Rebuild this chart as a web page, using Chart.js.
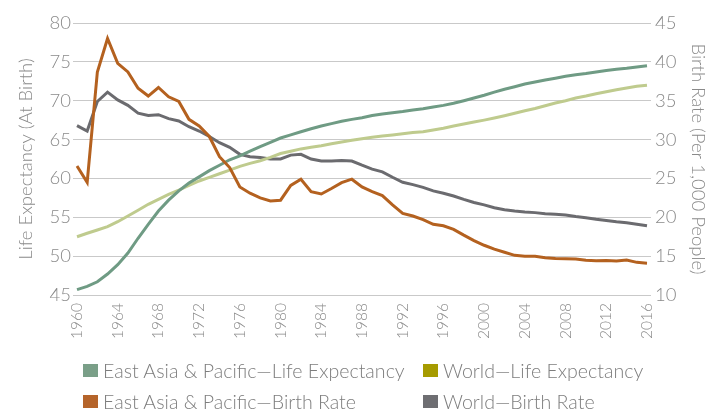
<!DOCTYPE html>
<html>
<head>
<meta charset="utf-8">
<script src="https://cdn.jsdelivr.net/npm/chart.js@4.4.0/dist/chart.umd.min.js"></script>
<style>
  html, body { margin: 0; padding: 0; background: #fff; }
  #wrap { position: relative; width: 722px; height: 410px; }
  #legend { position: absolute; left: 0; top: 0; width: 722px; height: 410px; pointer-events: none; }
  .item { position: absolute; display: flex; align-items: center; height: 24px;
          font-family: "Lato", sans-serif; font-weight: 300; font-size: 19.6px; color: #7d7d7d; white-space: nowrap; }
  .box { width: 15px; height: 13px; margin-right: 5px; flex: none; }
</style>
</head>
<body>
<div id="wrap">
  <canvas id="c" width="722" height="410"></canvas>
  <div id="legend"></div>
</div>
<script>
const years = [];
for (let y = 1960; y <= 2016; y++) years.push(String(y));

const seriesNames = [
  "East Asia & Pacific\u2014Life Expectancy",
  "World\u2014Life Expectancy",
  "East Asia & Pacific\u2014Birth Rate",
  "World\u2014Birth Rate"
];

const eapLife = [45.7, 46.1, 46.7, 47.7, 48.9, 50.4, 52.3, 54.1, 55.8, 57.2,
  58.4, 59.4, 60.2, 61.0, 61.7, 62.4, 62.9, 63.5, 64.1, 64.65,
  65.2, 65.6, 66.0, 66.4, 66.75, 67.05, 67.35, 67.6, 67.8, 68.1,
  68.3, 68.45, 68.6, 68.8, 68.97, 69.2, 69.4, 69.67, 70.0, 70.35,
  70.7, 71.1, 71.47, 71.8, 72.15, 72.4, 72.67, 72.9, 73.14, 73.35,
  73.5, 73.7, 73.9, 74.04, 74.17, 74.34, 74.5];

const worldLife = [52.5, 52.94, 53.36, 53.8, 54.43, 55.16, 55.9, 56.67, 57.3, 57.95,
  58.5, 59.1, 59.67, 60.14, 60.6, 61.08, 61.55, 61.94, 62.28, 62.7,
  63.2, 63.5, 63.8, 64.0, 64.2, 64.47, 64.7, 64.9, 65.1, 65.3,
  65.46, 65.6, 65.76, 65.9, 66.0, 66.23, 66.45, 66.75, 67.0, 67.26,
  67.5, 67.77, 68.07, 68.38, 68.7, 69.0, 69.36, 69.7, 70.0, 70.35,
  70.6, 70.9, 71.16, 71.4, 71.64, 71.85, 72.0];

const eapBirth = [26.6, 24.5, 38.7, 43.0, 39.8, 38.7, 36.6, 35.6, 36.7, 35.5,
  34.9, 32.6, 31.75, 30.4, 27.8, 26.4, 23.9, 23.1, 22.5, 22.1,
  22.2, 24.1, 24.9, 23.3, 23.0, 23.7, 24.45, 24.9, 23.9, 23.3,
  22.8, 21.6, 20.5, 20.16, 19.7, 19.1, 18.9, 18.45, 17.7, 17.0,
  16.4, 15.9, 15.5, 15.1, 15.0, 15.0, 14.8, 14.7, 14.67, 14.63,
  14.46, 14.4, 14.45, 14.37, 14.5, 14.2, 14.1];

const worldBirth = [31.8, 31.1, 34.9, 36.1, 35.1, 34.4, 33.4, 33.1, 33.2, 32.7,
  32.4, 31.65, 31.1, 30.4, 29.6, 29.0, 28.1, 27.8, 27.7, 27.5,
  27.5, 28.0, 28.1, 27.5, 27.24, 27.24, 27.3, 27.24, 26.7, 26.2,
  25.85, 25.15, 24.5, 24.2, 23.85, 23.4, 23.1, 22.74, 22.3, 21.9,
  21.6, 21.23, 20.97, 20.8, 20.68, 20.6, 20.46, 20.38, 20.3, 20.1,
  19.95, 19.74, 19.6, 19.43, 19.3, 19.1, 18.9];

const lineColors = ["#6f9b84", "#bfcb8e", "#b4611f", "#6b6b6f"];
const legendColors = ["#7a9f88", "#a69b00", "#b5642a", "#6e6e72"];

const leftTicks = [45, 50, 55, 60, 65, 70, 75, 80];
const rightTicks = [10, 15, 20, 25, 30, 35, 40, 45];

const tickFont = { family: "Lato", size: 18.5, weight: 300 };
const textColor = "#8a8a8a";
const gridColor = "#c9c9c9";

function ds(i, data, axis) {
  return {
    label: seriesNames[i], data: data, yAxisID: axis,
    borderColor: lineColors[i], backgroundColor: lineColors[i],
    borderWidth: 3, pointRadius: 0, tension: 0, fill: false
  };
}

new Chart(document.getElementById("c"), {
  type: "line",
  data: {
    labels: years,
    datasets: [
      ds(2, eapBirth, "yR"),
      ds(0, eapLife, "yL"),
      ds(1, worldLife, "yL"),
      ds(3, worldBirth, "yR")
    ]
  },
  options: {
    responsive: false,
    animation: false,
    events: [],
    layout: { padding: { top: 23, bottom: 65, left: 0, right: 0 } },
    plugins: { legend: { display: false }, tooltip: { enabled: false } },
    scales: {
      x: {
        offset: false,
        grid: { display: false, drawTicks: false },
        border: { display: false },
        ticks: {
          autoSkip: false, maxRotation: 90, minRotation: 90, padding: 8,
          color: textColor, font: { family: "Lato", size: 15.5, weight: 300 },
          callback: function (v, i) { return (i % 4 === 0) ? years[i] : ""; }
        },
        afterFit: function (s) { s.height = 50; }
      },
      yL: {
        position: "left", min: 45, max: 80,
        afterBuildTicks: function (s) { s.ticks = leftTicks.map(v => ({ value: v })); },
        grid: { color: gridColor, lineWidth: 1, drawTicks: true, tickLength: 4, tickColor: gridColor },
        border: { display: false },
        ticks: { padding: 2, color: textColor, font: tickFont },
        title: { display: true, text: "Life Expectancy (At Birth)", color: textColor,
                 font: { family: "Lato", size: 18.5, weight: 300 }, padding: { top: 15, bottom: 0 } },
        afterFit: function (s) { s.width = 77; }
      },
      yR: {
        position: "right", min: 10, max: 45,
        afterBuildTicks: function (s) { s.ticks = rightTicks.map(v => ({ value: v })); },
        grid: { drawOnChartArea: false, color: gridColor, drawTicks: true, tickLength: 4, tickColor: gridColor },
        border: { display: false },
        ticks: { padding: 4, color: textColor, font: tickFont },
        title: { display: true, text: "Birth Rate (Per 1,000 People)", color: textColor,
                 font: { family: "Lato", size: 18.5, weight: 300 }, padding: { top: 13, bottom: 0 } },
        afterFit: function (s) { s.width = 75; }
      }
    }
  }
});

// HTML legend, two columns by two rows
const legendOrder = [0, 1, 2, 3];
const legendPos = [[83, 358], [423, 358], [83, 389], [423, 389]];
const lg = document.getElementById("legend");
legendOrder.forEach(function (idx, k) {
  const el = document.createElement("div");
  el.className = "item";
  el.style.left = legendPos[k][0] + "px";
  el.style.top = legendPos[k][1] + "px";
  const b = document.createElement("span");
  b.className = "box";
  b.style.background = legendColors[idx];
  const t = document.createElement("span");
  t.textContent = seriesNames[idx];
  el.appendChild(b); el.appendChild(t);
  lg.appendChild(el);
});
</script>
</body>
</html>
